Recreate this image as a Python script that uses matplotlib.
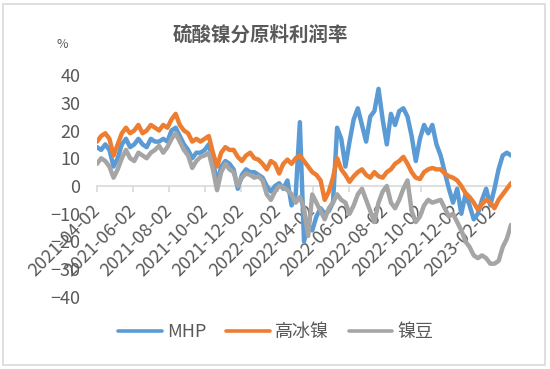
import numpy as np
import pandas as pd
import matplotlib
matplotlib.use("Agg")
import matplotlib.pyplot as plt
from matplotlib.patches import Rectangle

plt.rcParams['font.family'] = ['Noto Sans CJK SC', 'DejaVu Sans']

# weekly readings, 2021-04-02 .. 2023-03-03
start = "2021-04-02"
n_weeks = 101
mhp = [14, 13, 15, 13, 7, 10, 15, 17, 14, 15,
       17, 15, 14, 17, 16, 16, 17, 16, 20, 21,
       18, 15, 13, 10, 12, 12, 13, 15, 9, 1,
       7, 9, 8, 6, -1, 4, 6, 5, 5, 4,
       3, 0, -2, 0, 1, -1, 2, -7, -3, 23,
       -20, -14, -16, -11, -8, -10, -9, -6, 21, 17,
       7, 16, 24, 28, 22, 16, 25, 27, 35, 24,
       15, 26, 22, 27, 28, 25, 18, 9, 17, 22,
       19, 22, 15, 11, 5, -1, -6, -1, -10, -3,
       -7, -12, -10, -5, -1, -7, -1, 6, 11, 12,
       11]
gbn = [16, 18, 19, 17, 11, 15, 19, 21, 19, 20,
       22, 19, 20, 22, 21, 20, 22, 21, 24, 26,
       22, 20, 19, 16, 17, 16, 17, 18, 12, 7,
       12, 14, 13, 13, 10.5, 9, 11, 12, 10, 9.5,
       8, 6, 9, 8, 4.5, 8, 9.5, 8, 10, 11,
       9, 7, 5, 4, 2, -5, -2, 3, 10, 6,
       4, 1.5, 3.5, 5, 6, 4, 3, 5, 3.5, 3,
       5, 6, 8, 9, 10.5, 8, 5, 3, 2.5, 5,
       6, 6.5, 6, 6, 4.5, 3.5, 3, 2, 0, -2.5,
       -4, -6, -8.5, -6.5, -5, -6, -8, -5, -3, -1,
       1]
nd = [8, 10, 9, 7, 3, 6, 10, 13, 10, 9,
      12, 11, 10, 12, 13, 14.5, 12, 14, 17, 19,
      16, 13, 11, 6.5, 9, 10.5, 11, 12, 6, -1.5,
      5, 8, 6, 5, 0, 3, 4.5, 4, 3, 3.5,
      2, -3, -5, -2, 0, -0.5, -1.5, -3, -6, -4,
      -8, -18, -3, -6, -9, -12, -8, -6, -3, -5,
      -6, -10, -7, -3, -1, -5, -9, -13, -6, -2,
      0, -6, -8, -5, -1, 2, -9, -13, -11, -7,
      -5, -6, -5.5, -5, -8, -11, -10, -13, -16, -20,
      -22, -25, -26, -25, -26, -28, -28, -27, -22, -19,
      -14]
tick_labels = ["2021-04-02", "2021-06-02", "2021-08-02", "2021-10-02",
               "2021-12-02", "2022-02-02", "2022-04-02", "2022-06-02",
               "2022-08-02", "2022-10-02", "2022-12-02", "2023-02-02"]
series = [("MHP", mhp, "#5B9BD5"), ("高冰镍", gbn, "#ED7D31"), ("镍豆", nd, "#A5A5A5")]

dates = pd.date_range(start, periods=n_weeks, freq="7D")
TXT = "#595959"

fig = plt.figure(figsize=(5.5, 3.69), dpi=100)
fig.patch.set_facecolor("white")
fig.patches.append(Rectangle((3 / 550, 4 / 369), 542 / 550, 361 / 369,
                             transform=fig.transFigure, fill=False,
                             edgecolor="#D9D9D9", linewidth=1.2))

ax = fig.add_axes([97 / 550, 1 - 297 / 369, 414 / 550, 222 / 369])
for name, vals, col in series:
    ax.plot(dates, vals, color=col, linewidth=3.2, label=name,
            solid_joinstyle="round", solid_capstyle="round")

ax.set_xlim(dates[0], dates[-1])
ax.set_ylim(-40, 40)
ax.set_yticks(range(-40, 41, 10))
ax.tick_params(axis="y", length=0, pad=12, labelsize=13, labelcolor=TXT)

ax.spines["bottom"].set_position(("data", 0))
ax.spines["bottom"].set_color("#D9D9D9")
ax.spines["bottom"].set_linewidth(1.2)
ax.spines["bottom"].set_zorder(0)
for s in ("left", "top", "right"):
    ax.spines[s].set_visible(False)

ax.set_xticks([pd.Timestamp(t) for t in tick_labels])
ax.set_xticklabels(tick_labels)
ax.tick_params(axis="x", length=4, color="#D9D9D9", width=1.2, pad=12,
               labelsize=13, labelcolor=TXT)
for lab in ax.get_xticklabels():
    lab.set_rotation(45)
    lab.set_ha("right")
    lab.set_va("center")
    lab.set_rotation_mode("anchor")

fig.text(260 / 550, 1 - 35 / 369, "硫酸镍分原料利润率", ha="center", va="center",
         fontsize=14, fontweight="bold", color=TXT)
fig.text(62 / 550, 1 - 45 / 369, "%", ha="center", va="center",
         fontsize=9, color=TXT)

leg = fig.legend(loc="center", bbox_to_anchor=(276 / 550, 1 - 332 / 369), ncol=3,
                 frameon=False, fontsize=13, handlelength=2.4, handletextpad=0.3,
                 columnspacing=1.1, labelcolor=TXT)
for h in leg.get_lines():
    h.set_linewidth(2.6)

fig.savefig("out.png", dpi=100, facecolor="white")
